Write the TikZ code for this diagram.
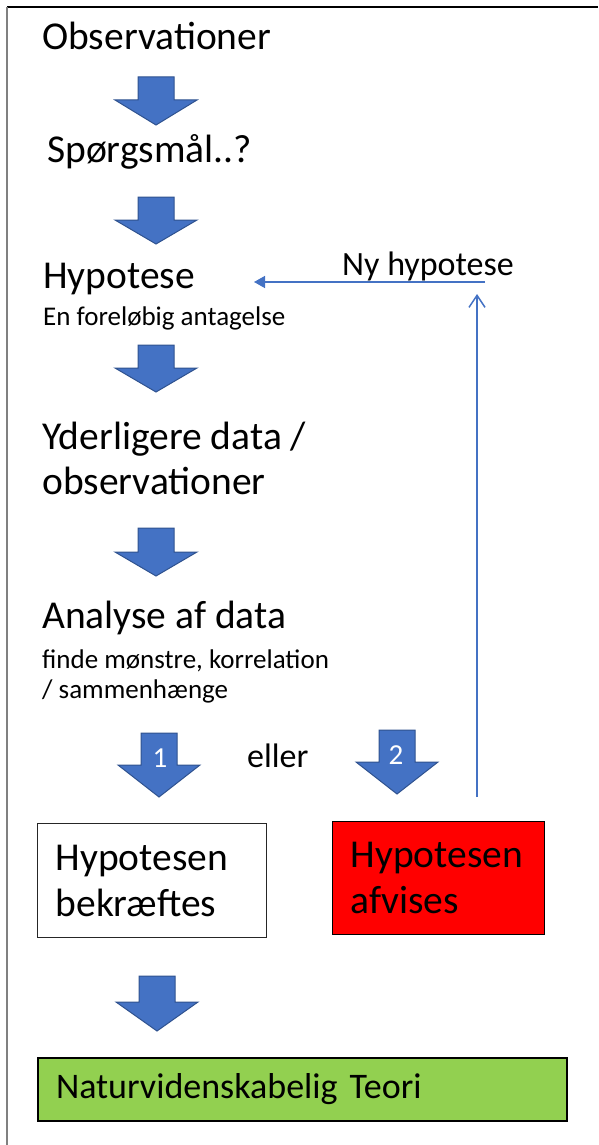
\documentclass[tikz,border=0pt]{standalone}
\usepackage{fontspec}
\setmainfont{Carlito}
\usetikzlibrary{arrows.meta}
\definecolor{blk}{HTML}{4472C4}
\definecolor{blkline}{HTML}{2F528F}
\definecolor{grn}{HTML}{92D050}
\newcommand\blkarrow[4]{%
  \draw[blockarr] (#1-18,#2) -- (#1+18,#2) -- (#1+18,#3) -- (#1+41,#3) -- (#1,#4) -- (#1-41,#3) -- (#1-18,#3) -- cycle;}
\begin{document}
\begin{tikzpicture}[x=1pt,y=-1pt,
  big/.style={font=\fontsize{39.5}{46}\selectfont, inner sep=0pt, anchor=base west},
  mid/.style={font=\fontsize{34}{40}\selectfont, inner sep=0pt, anchor=base west},
  small/.style={font=\fontsize{27}{30}\selectfont, inner sep=0pt, anchor=base west},
  blockarr/.style={fill=blk, draw=blkline, line width=1pt, line join=miter},
  num/.style={font=\fontsize{29}{29}\selectfont, text=white, inner sep=0pt},
  conn/.style={draw=blk, line width=1.5pt},
  box/.style={anchor=north west, align=left, inner xsep=18pt, inner ysep=0pt, font=\fontsize{39.5}{46}\selectfont}]
\useasboundingbox (0,0) rectangle (598,1145);
% frame
\draw[line width=1.5pt, black] (7,7) -- (598,7);
\draw[line width=1.5pt, black!50] (7,7) -- (7,1145);

% texts
\node[big] (obs) at (42,50) {Observationer};
\node[big] (sp) at (47,162) {Spørgsmål..?};
\node[big] (hyp) at (43,288) {Hypotese};
\node[small] (hypsub) at (43,325) {En foreløbig antagelse};
\node[big] (yd1) at (42,449) {Yderligere data /};
\node[big] (yd2) at (42,494) {observationer};
\node[big] (an) at (42,628) {Analyse af data};
\node[small] (an1) at (42,668) {finde mønstre, korrelation};
\node[small] (an2) at (42,698) {/ sammenhænge};
\node[mid] (eller) at (247,767) {eller};
\node[mid] (ny) at (342,275) {Ny hypotese};

% block arrows
\blkarrow{156}{77}{100}{125}
\blkarrow{156}{197}{220}{244}
\blkarrow{156}{345}{368}{392}
\blkarrow{156}{528}{552}{576}
\blkarrow{159}{733}{765}{797}
\blkarrow{397}{730}{762}{794}
\blkarrow{157}{976}{1002}{1031}
\node[num] (n1) at (160,758) {1};
\node[num] (n2) at (396,755) {2};

% boxes
\node[box, draw=black!85, line width=1.2pt, text width=193pt, minimum height=114pt] (bekr) at (37,823) {Hypotesen\\bekræftes};
\node[box, draw=black, fill=red, line width=1pt, text width=176pt, minimum height=113pt] (afv) at (332,821) {Hypotesen\\afvises};
\node[box, draw=black, fill=grn, line width=2pt, text width=493pt, minimum height=63pt, font=\fontsize{36}{42}\selectfont] (teori) at (37,1057) {Naturvidenskabelig Teori};

% feedback connectors
\coordinate (vstart) at (477,797);
\coordinate (vend) at (477,294);
\coordinate (hstart) at (485,282);
\coordinate (hend) at (254,282);
\draw[conn, -{Straight Barb[length=12pt,width=16pt]}] (vstart) -- (vend);
\draw[conn, -{Triangle[length=11pt,width=12pt]}] (hstart) -- (hend);
\end{tikzpicture}
\end{document}
